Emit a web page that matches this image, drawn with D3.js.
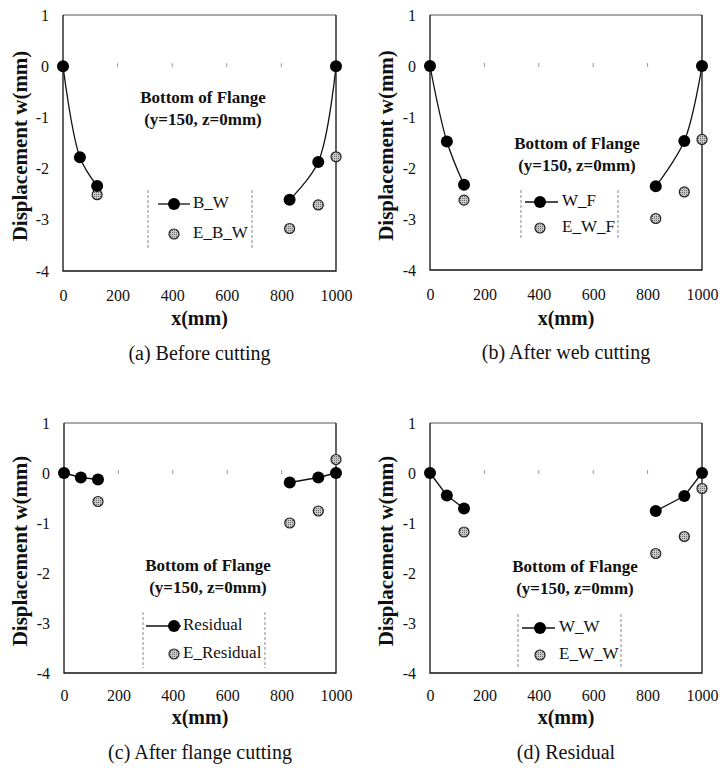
<!DOCTYPE html>
<html>
<head>
<meta charset="utf-8">
<script src="https://cdn.jsdelivr.net/npm/d3@7/dist/d3.min.js"></script>
<style>
  html, body { margin: 0; padding: 0; background: #fff; }
  svg { display: block; }
  svg text { font-family: "Liberation Serif", "Times New Roman", serif !important; }
</style>
</head>
<body>
<svg id="chart" width="723" height="776"></svg>
<script>
// ---------- data ----------
const xPositions = [0, 62, 125, 830, 935, 1000];   // analysis points (mm)
const xExperiment = [125, 830, 935, 1000];         // measured points (mm)

const bW        = [0, -1.78, -2.34, -2.61, -1.87, 0];
const eBW       = [-2.51, -3.17, -2.71, -1.77];
const wF        = [0, -1.48, -2.33, -2.36, -1.47, 0];
const eWF       = [-2.63, -2.99, -2.47, -1.44];
const residual  = [0, -0.09, -0.13, -0.19, -0.09, 0];
const eResidual = [-0.57, -1.0, -0.76, 0.27];
const wW        = [0, -0.45, -0.71, -0.76, -0.46, 0];
const eWW       = [-1.18, -1.61, -1.27, -0.31];

const lineNames = ["B_W", "W_F", "Residual", "W_W"];
const expNames  = ["E_B_W", "E_W_F", "E_Residual", "E_W_W"];
const captions  = ["(a) Before cutting", "(b) After web cutting", "(c) After flange cutting", "(d) Residual"];
const xTicks = [0, 200, 400, 600, 800, 1000];
const yTicks = [1, 0, -1, -2, -3, -4];
const annotationLines = ["Bottom of Flange", "(y=150, z=0mm)"];
const xTitle = "x(mm)";
const yTitle = "Displacement w(mm)";

// ---------- layout ----------
const panels = [
  { line: bW, exp: eBW, smooth: true,
    box: { l: 63, t: 15, r: 336, b: 271 },
    ann: { x: 203, y: 99 },
    leg: { l: 148, r: 252, t: 190, b: 248, row1: 204, row2: 234, mx: 174, lx0: 158, lx1: 190, tx: 193 },
    ylab: 22, tickOff: 25, titleOff: 49, capOff: 84 },
  { line: wF, exp: eWF, smooth: true,
    box: { l: 430, t: 15, r: 702, b: 270 },
    ann: { x: 577, y: 145 },
    leg: { l: 521, r: 618, t: 190, b: 240, row1: 202, row2: 228, mx: 540, lx0: 525, lx1: 558, tx: 562 },
    ylab: 388, tickOff: 25, titleOff: 50, capOff: 84 },
  { line: residual, exp: eResidual, smooth: false,
    box: { l: 64, t: 423, r: 336, b: 673 },
    ann: { x: 208, y: 567 },
    leg: { l: 143, r: 265, t: 612, b: 668, row1: 626, row2: 654, mx: 174, lx0: 146, lx1: 181, tx: 183 },
    ylab: 22, tickOff: 23, titleOff: 46, capOff: 81 },
  { line: wW, exp: eWW, smooth: false,
    box: { l: 430, t: 423, r: 702, b: 673 },
    ann: { x: 575, y: 568 },
    leg: { l: 518, r: 621, t: 614, b: 668, row1: 628, row2: 655, mx: 540, lx0: 522, lx1: 555, tx: 559 },
    ylab: 388, tickOff: 23, titleOff: 46, capOff: 81 }
];

const FONT = '"Liberation Serif", "Times New Roman", serif';
const svg = d3.select("#chart");
const defs = svg.append("defs");
const pat = defs.append("pattern").attr("id", "stip")
  .attr("width", 2).attr("height", 2).attr("patternUnits", "userSpaceOnUse");
pat.append("rect").attr("width", 2).attr("height", 2).attr("fill", "#c8c8c8");
pat.append("rect").attr("width", 1).attr("height", 1).attr("fill", "#6a6a6a");

const R_BLACK = 6, R_GRAY = 5;

panels.forEach((p, i) => {
  const g = svg.append("g").attr("font-family", FONT);
  const x = d3.scaleLinear().domain([0, 1000]).range([p.box.l, p.box.r]);
  const y = d3.scaleLinear().domain([-4, 1]).range([p.box.b, p.box.t]);

  // frame
  g.append("line").attr("x1", p.box.l).attr("x2", p.box.r).attr("y1", p.box.t).attr("y2", p.box.t)
    .attr("stroke", "#555").attr("stroke-width", 1);
  g.append("path")
    .attr("d", `M${p.box.l},${p.box.t}V${p.box.b}H${p.box.r}V${p.box.t}`)
    .attr("fill", "none").attr("stroke", "#111").attr("stroke-width", 1.3);

  // y axis labels
  const yAxis = d3.axisLeft(y).tickValues(yTicks).tickSize(0).tickPadding(14)
    .tickFormat(d => d < 0 ? "-" + Math.abs(d) : String(d));
  const ya = g.append("g").attr("transform", `translate(${p.box.l},0)`).call(yAxis)
    .attr("font-family", FONT);
  ya.select(".domain").remove();
  ya.selectAll("text").attr("font-size", 16).style("font-family", FONT).attr("fill", "#111");

  // x axis labels (below frame)
  const xAxis = d3.axisBottom(x).tickValues(xTicks).tickSize(0).tickPadding(0)
    .tickFormat(d3.format("d"));
  const xa = g.append("g").attr("transform", `translate(0,${p.box.b + p.tickOff - 6})`).call(xAxis)
    .attr("font-family", FONT);
  xa.select(".domain").remove();
  xa.selectAll("text").attr("font-size", 16).style("font-family", FONT).attr("fill", "#111");

  // small tick marks on the zero line
  g.selectAll(".zt").data(xTicks.slice(1, -1)).enter().append("line")
    .attr("x1", d => x(d)).attr("x2", d => x(d))
    .attr("y1", y(0) - 3).attr("y2", y(0) + 1)
    .attr("stroke", "#999").attr("stroke-width", 1);

  // titles
  g.append("text").attr("x", (p.box.l + p.box.r) / 2).attr("y", p.box.b + p.titleOff)
    .attr("text-anchor", "middle").attr("dominant-baseline", "middle")
    .attr("font-size", 20).attr("font-weight", "bold").attr("fill", "#111").text(xTitle);
  g.append("text")
    .attr("transform", `translate(${p.ylab},${(p.box.t + p.box.b) / 2 + 3}) rotate(-90)`)
    .attr("text-anchor", "middle").attr("dominant-baseline", "middle")
    .attr("font-size", 21).attr("font-weight", "bold").attr("fill", "#111").text(yTitle);
  g.append("text").attr("x", (p.box.l + p.box.r) / 2).attr("y", p.box.b + p.capOff)
    .attr("text-anchor", "middle").attr("dominant-baseline", "middle")
    .attr("font-size", 20).attr("fill", "#111").text(captions[i]);

  // annotation
  annotationLines.forEach((t, k) => {
    g.append("text").attr("x", p.ann.x).attr("y", p.ann.y + k * 22)
      .attr("text-anchor", "middle").attr("dominant-baseline", "middle")
      .attr("font-size", 17).attr("font-weight", "bold").attr("fill", "#111").text(t);
  });

  // analysis line (two segments)
  const pts = xPositions.map((xv, k) => [xv, p.line[k]]);
  const lineGen = d3.line().x(d => x(d[0])).y(d => y(d[1]))
    .curve(p.smooth ? d3.curveCatmullRom.alpha(0.5) : d3.curveLinear);
  [pts.slice(0, 3), pts.slice(3)].forEach(seg => {
    g.append("path").attr("d", lineGen(seg)).attr("fill", "none")
      .attr("stroke", "#111").attr("stroke-width", 1.3);
  });

  // experiment markers
  g.selectAll(".e").data(xExperiment.map((xv, k) => [xv, p.exp[k]])).enter().append("circle")
    .attr("cx", d => x(d[0])).attr("cy", d => y(d[1])).attr("r", R_GRAY)
    .attr("fill", "url(#stip)").attr("stroke", "#222").attr("stroke-width", 1.2);

  // analysis markers
  g.selectAll(".b").data(pts).enter().append("circle")
    .attr("cx", d => x(d[0])).attr("cy", d => y(d[1])).attr("r", R_BLACK)
    .attr("fill", "#000");

  // legend
  const L = p.leg;
  [L.l, L.r].forEach(lx => {
    g.append("line").attr("x1", lx).attr("x2", lx).attr("y1", L.t).attr("y2", L.b)
      .attr("stroke", "#888").attr("stroke-width", 1).attr("stroke-dasharray", "3,2");
  });
  g.append("line").attr("x1", L.lx0).attr("x2", L.lx1).attr("y1", L.row1).attr("y2", L.row1)
    .attr("stroke", "#111").attr("stroke-width", 1.3);
  g.append("circle").attr("cx", L.mx).attr("cy", L.row1).attr("r", R_BLACK).attr("fill", "#000");
  g.append("circle").attr("cx", L.mx).attr("cy", L.row2).attr("r", R_GRAY)
    .attr("fill", "url(#stip)").attr("stroke", "#222").attr("stroke-width", 1.2);
  g.append("text").attr("x", L.tx).attr("y", L.row1).attr("dominant-baseline", "middle")
    .attr("font-size", 17).attr("fill", "#111").text(lineNames[i]);
  g.append("text").attr("x", L.tx).attr("y", L.row2).attr("dominant-baseline", "middle")
    .attr("font-size", 17).attr("fill", "#111").text(expNames[i]);
});
</script>
</body>
</html>
